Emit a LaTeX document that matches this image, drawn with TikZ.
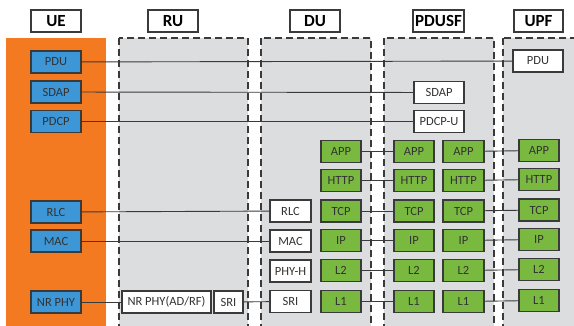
\documentclass[tikz,border=0pt]{standalone}
\usepackage{fontspec}
\setmainfont{Carlito}
\definecolor{ueorange}{HTML}{F37A21}
\definecolor{boxblue}{HTML}{3D96D6}
\definecolor{boxgreen}{HTML}{7AB940}
\definecolor{regiongray}{HTML}{DCDDDF}
\definecolor{edge}{HTML}{3A3A3A}
\definecolor{txt}{HTML}{333333}
\begin{document}
\begin{tikzpicture}[x=1pt,y=-1pt,
  hdr/.style={draw=edge,line width=1.2pt,fill=white,minimum width=50pt,minimum height=22pt,inner sep=0pt,font=\fontsize{17}{17}\selectfont\bfseries,text=black},
  region/.style={fill=regiongray,draw=edge,line width=1.3pt,dash pattern=on 7pt off 4pt},
  lay/.style={draw=edge,line width=1.1pt,minimum height=22pt,inner sep=0pt,font=\fontsize{12.5}{12.5}\selectfont,text=txt},
  bluebox/.style={lay,fill=boxblue,minimum width=50pt},
  whitebox/.style={lay,fill=white},
  greenbox/.style={lay,fill=boxgreen,minimum width=40pt},
  link/.style={draw=edge,line width=0.9pt}]
\useasboundingbox (0,0) rectangle (574,326);
\begin{scope}
\clip (0,0) rectangle (574,326);
% regions
\fill[ueorange] (6,38) rectangle (106,330);
\path[region] (119,38) rectangle (248,340);
\path[region] (261,38) rectangle (371,340);
\path[region] (384,38) rectangle (494,340);
\path[region] (503,38) rectangle (590,340);
\end{scope}
% headers
\node[hdr] (hUE) at (56,21) {UE};
\node[hdr] (hRU) at (173,21) {RU};
\node[hdr] (hDU) at (315,21) {DU};
\node[hdr,minimum width=51pt] (hPDUSF) at (438.5,21) {PDUSF};
\node[hdr,minimum width=49pt] (hUPF) at (538.5,21) {UPF};
% UE stack
\node[bluebox] (uePDU) at (56,62) {PDU};
\node[bluebox] (ueSDAP) at (56,92) {SDAP};
\node[bluebox] (uePDCP) at (56,121.5) {PDCP};
\node[bluebox] (ueRLC) at (56,212) {RLC};
\node[bluebox] (ueMAC) at (56,241) {MAC};
\node[bluebox] (ueNRPHY) at (56,302) {NR PHY};
% RU
\node[whitebox,minimum width=89pt] (ruNRPHY) at (166.5,302) {NR PHY(AD/RF)};
\node[whitebox,minimum width=29pt] (ruSRI) at (228.5,302) {SRI};
% DU white
\node[whitebox,minimum width=41pt] (duRLC) at (290.5,211) {RLC};
\node[whitebox,minimum width=41pt] (duMAC) at (290.5,241) {MAC};
\node[whitebox,minimum width=41pt] (duPHYH) at (290.5,271) {PHY-H};
\node[whitebox,minimum width=41pt] (duSRI) at (290.5,301.5) {SRI};
% PDUSF white
\node[whitebox,minimum width=50pt] (pSDAP) at (439,92.5) {SDAP};
\node[whitebox,minimum width=50pt] (pPDCPU) at (439,121.5) {PDCP-U};
% UPF white
\node[whitebox,minimum width=50pt] (uPDU) at (538,61) {PDU};
% green stacks
\foreach \n/\t/\y in {app/APP/151.5,http/HTTP/180.5,tcp/TCP/211,ip/IP/240.5,ltwo/L2/270.5,lone/L1/301.5}{
  \node[greenbox] (du\n) at (341,\y) {\t};
  \node[greenbox] (pa\n) at (414,\y) {\t};
  \node[greenbox,minimum width=41pt] (pb\n) at (463.5,\y) {\t};
  \node[greenbox] (up\n) at (539,\y-1) {\t};
}
% connectors
\draw[link] (uePDU) -- (uPDU);
\draw[link] (ueSDAP) -- (pSDAP);
\draw[link] (uePDCP) -- (pPDCPU);
\draw[link] (ueRLC) -- (duRLC);
\draw[link] (ueMAC) -- (duMAC);
\draw[link] (ueNRPHY) -- (ruNRPHY);
\draw[link] (ruSRI) -- (duSRI);
\foreach \n in {app,http,tcp,ip,ltwo,lone}{
  \draw[link] (du\n) -- (pa\n);
  \draw[link] (pb\n) -- (up\n);
}
\end{tikzpicture}
\end{document}
